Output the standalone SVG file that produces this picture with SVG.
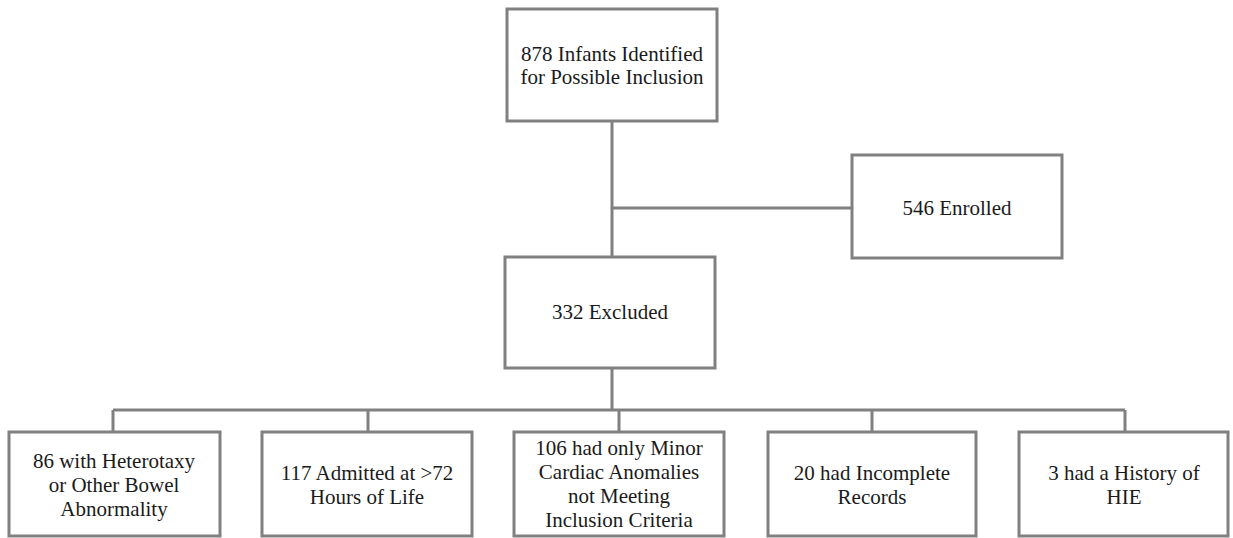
<svg xmlns="http://www.w3.org/2000/svg" width="1233" height="538" viewBox="0 0 1233 538" font-family="Liberation Serif, DejaVu Serif, serif">
<style>
.box{fill:#fff;stroke:#808080;stroke-width:3}
.ln{fill:none;stroke:#808080;stroke-width:3}
text{font-size:21px;fill:#1a1a1a;text-anchor:middle}
</style>
<rect width="1233" height="538" fill="#fff"/>
<g id="connectors">
<path class="ln" d="M612 121V257M612 208H852M612 368V410M113 410H1125M113 410V432M368 410V432M619 410V432M872 410V432M1125 410V432"/>
</g>
<g id="n-identified"><rect class="box" x="507" y="9" width="210" height="112"/><text x="612" y="61">878 Infants Identified</text><text x="612" y="84">for Possible Inclusion</text></g>
<g id="n-enrolled"><rect class="box" x="852" y="155" width="210" height="103"/><text x="957" y="215">546 Enrolled</text></g>
<g id="n-excluded"><rect class="box" x="505" y="257" width="210" height="111"/><text x="610" y="319">332 Excluded</text></g>
<g id="n-heterotaxy"><rect class="box" x="9" y="432" width="211" height="104"/><text x="114" y="468">86 with Heterotaxy</text><text x="114" y="492">or Other Bowel</text><text x="114" y="516">Abnormality</text></g>
<g id="n-admitted"><rect class="box" x="262" y="432" width="210" height="104"/><text x="367" y="480">117 Admitted at &gt;72</text><text x="367" y="504">Hours of Life</text></g>
<g id="n-minor"><rect class="box" x="514" y="432" width="210" height="104"/><text x="619" y="455">106 had only Minor</text><text x="619" y="479">Cardiac Anomalies</text><text x="619" y="503">not Meeting</text><text x="619" y="527">Inclusion Criteria</text></g>
<g id="n-incomplete"><rect class="box" x="768" y="432" width="208" height="104"/><text x="872" y="480">20 had Incomplete</text><text x="872" y="504">Records</text></g>
<g id="n-hie"><rect class="box" x="1019" y="432" width="209" height="104"/><text x="1124" y="480">3 had a History of</text><text x="1124" y="504">HIE</text></g>
</svg>
